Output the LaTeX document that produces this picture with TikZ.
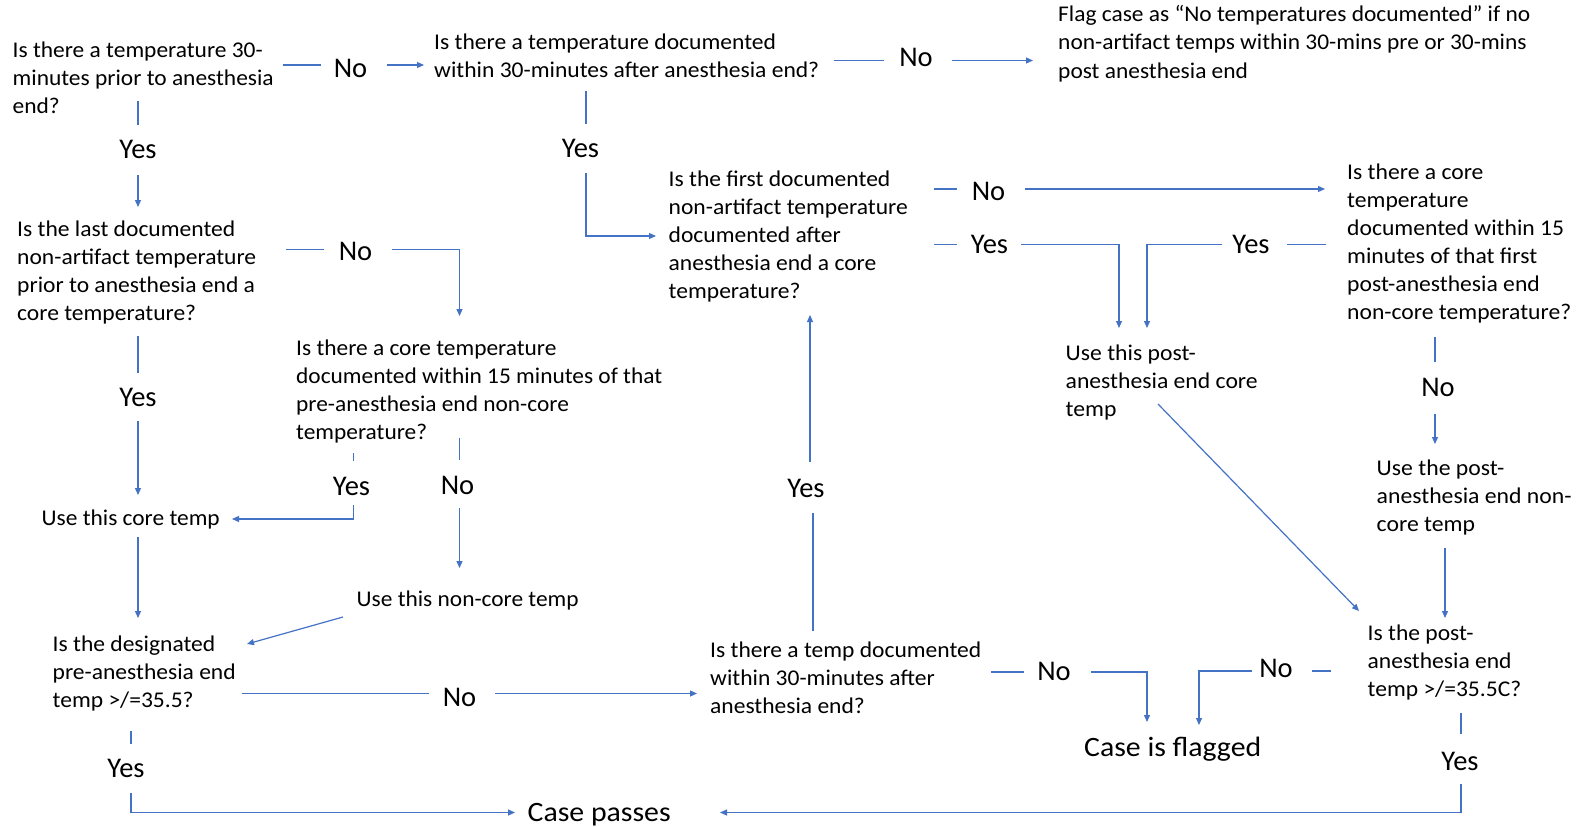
\documentclass[tikz,border=0pt]{standalone}
\usepackage{fontspec}
\setmainfont{Carlito}
\usepackage{graphicx}
\usetikzlibrary{arrows.meta}
\definecolor{ln}{HTML}{4472C4}
\newcommand\tb[2]{\resizebox{#1pt}{\height}{\begin{tabular}[t]{@{}l@{}}#2\end{tabular}}}
\begin{document}
\begin{tikzpicture}[x=1pt,y=-1pt,
  txt/.style={anchor=base west,inner sep=0pt,font=\fontsize{22.5}{28}\selectfont},
  lbl/.style={anchor=center,inner sep=0pt,font=\fontsize{28.5}{32}\selectfont},
  big/.style={anchor=base west,inner sep=0pt,font=\fontsize{28}{34}\selectfont},
  conn/.style={draw=ln,line width=1.2pt},
  arr/.style={conn,-{Triangle[length=7pt,width=6pt]}}]
\useasboundingbox[fill=white] (0,0) rectangle (1583,827);
% text nodes
\node[txt] (q1) at (12.5,57.3) {\tb{261}{Is there a temperature 30-\\minutes prior to anesthesia\\end?}};
\node[txt] (q2) at (434,49.5) {\tb{385}{Is there a temperature documented\\within 30-minutes after anesthesia end?}};
\node[txt] (flag) at (1058,22) {\tb{472}{Flag case as “No temperatures documented” if no\\non-artifact temps within 30-mins pre or 30-mins\\post anesthesia end}};
\node[txt] (q3) at (17,236) {\tb{239}{Is the last documented\\non-artifact temperature\\prior to anesthesia end a\\core temperature?}};
\node[txt] (q4) at (296,355.5) {\tb{366}{Is there a core temperature\\documented within 15 minutes of that\\pre-anesthesia end non-core\\temperature?}};
\node[txt] (usecore) at (41.5,525) {\tb{178}{Use this core temp}};
\node[txt] (usenon) at (356.5,606) {\tb{222}{Use this non-core temp}};
\node[txt] (q5) at (52.5,651) {\tb{183}{Is the designated\\pre-anesthesia end\\temp >/=35.5?}};
\node[txt] (q6) at (710,657.5) {\tb{271}{Is there a temp documented\\within 30-minutes after\\anesthesia end?}};
\node[txt] (q7) at (668.5,186) {\tb{239}{Is the first documented\\non-artifact temperature\\documented after\\anesthesia end a core\\temperature?}};
\node[txt] (q8) at (1347,179) {\tb{224}{Is there a core\\temperature\\documented within 15\\minutes of that first\\post-anesthesia end\\non-core temperature?}};
\node[txt] (usepc) at (1065.5,360.5) {\tb{192}{Use this post-\\anesthesia end core\\temp}};
\node[txt] (usepn) at (1376.5,475.5) {\tb{195}{Use the post-\\anesthesia end non-\\core temp}};
\node[txt] (q9) at (1367.5,640) {\tb{153.5}{Is the post-\\anesthesia end\\temp >/=35.5C?}};
\node[big] (pass) at (527.5,821) {\resizebox{143pt}{\height}{Case passes}};
\node[big] (flagged) at (1084,756.5) {\resizebox{177pt}{\height}{Case is flagged}};
% labels
\node[lbl] (l1) at (350.5,68.5) {No};
\node[lbl] (l2) at (916,57.5) {No};
\node[lbl] (l3) at (138,149.5) {Yes};
\node[lbl] (l4) at (580.5,148.5) {Yes};
\node[lbl] (l5) at (355.5,251.5) {No};
\node[lbl] (l6) at (138,397) {Yes};
\node[lbl] (l7) at (351.5,486) {Yes};
\node[lbl] (l8) at (457.5,485) {No};
\node[lbl] (l9) at (806,488) {Yes};
\node[lbl] (l10) at (988.5,191) {No};
\node[lbl] (l11) at (989.5,244.5) {Yes};
\node[lbl] (l12) at (1251,244.5) {Yes};
\node[lbl] (l13) at (1438,387) {No};
\node[lbl] (l14) at (459.5,697) {No};
\node[lbl] (l15) at (126,768.5) {Yes};
\node[lbl] (l16) at (1054,671.5) {No};
\node[lbl] (l17) at (1276,668.5) {No};
\node[lbl] (l18) at (1460,761.5) {Yes};
% ports
\coordinate (a1) at (283,65);   \coordinate (a2) at (321,65);
\coordinate (a3) at (387,65);   \coordinate (a4) at (424,65);
\coordinate (b1) at (834,60.5); \coordinate (b2) at (884,60.5);
\coordinate (b3) at (952,60.5); \coordinate (b4) at (1033,60.5);
\coordinate (c1) at (138,101);  \coordinate (c2) at (138,125);
\coordinate (c3) at (138,175);  \coordinate (c4) at (138,207);
\coordinate (d1) at (586,91);   \coordinate (d2) at (586,124);
\coordinate (d3) at (586,173);  \coordinate (d4) at (586,236); \coordinate (d5) at (656,236);
\coordinate (e1) at (286,249.5); \coordinate (e2) at (324,249.5);
\coordinate (e3) at (392,249.5); \coordinate (e4) at (459.5,249.5); \coordinate (e5) at (459.5,316);
\coordinate (f1) at (138,336);  \coordinate (f2) at (138,372.5);
\coordinate (f3) at (138,421);  \coordinate (f4) at (138,495);
\coordinate (g1) at (353.5,453); \coordinate (g2) at (353.5,461);
\coordinate (g3) at (353.5,505); \coordinate (g4) at (353.5,519); \coordinate (g5) at (232,519);
\coordinate (h1) at (459.5,438); \coordinate (h2) at (459.5,460);
\coordinate (h3) at (459.5,508); \coordinate (h4) at (459.5,568);
\coordinate (i1) at (138,537);  \coordinate (i2) at (138,618);
\coordinate (j1) at (343,617);  \coordinate (j2) at (247,644);
\coordinate (k1) at (242,693.5); \coordinate (k2) at (429,693.5);
\coordinate (k3) at (495,693.5); \coordinate (k4) at (697,693.5);
\coordinate (m1) at (131,731);  \coordinate (m2) at (131,744);
\coordinate (m3) at (131,793);  \coordinate (m4) at (131,812.5); \coordinate (m5) at (515,812.5);
\coordinate (n1) at (813,631);  \coordinate (n2) at (813,513);
\coordinate (n3) at (810,462);  \coordinate (n4) at (810,315);
\coordinate (o1) at (934,189);  \coordinate (o2) at (957,189);
\coordinate (o3) at (1025,189); \coordinate (o4) at (1325,189);
\coordinate (p1) at (934,244.5); \coordinate (p2) at (957,244.5);
\coordinate (p3) at (1021,244.5); \coordinate (p4) at (1119,244.5); \coordinate (p5) at (1119,328);
\coordinate (r1) at (1287,244.5); \coordinate (r2) at (1326,244.5);
\coordinate (r3) at (1222,244.5); \coordinate (r4) at (1147,244.5); \coordinate (r5) at (1147,328);
\coordinate (s1) at (1435,337); \coordinate (s2) at (1435,362);
\coordinate (s3) at (1435,414); \coordinate (s4) at (1435,444);
\coordinate (t1) at (1158,404); \coordinate (t2) at (1359,611);
\coordinate (u1) at (1445,548); \coordinate (u2) at (1445,618);
\coordinate (v1) at (991,672);  \coordinate (v2) at (1024,672);
\coordinate (v3) at (1091,672); \coordinate (v4) at (1147,672); \coordinate (v5) at (1147,722);
\coordinate (w1) at (1312,671); \coordinate (w2) at (1331,671);
\coordinate (w3) at (1252,671); \coordinate (w4) at (1199,671); \coordinate (w5) at (1199,725);
\coordinate (z1) at (1461,713); \coordinate (z2) at (1461,734);
\coordinate (z3) at (1461,784); \coordinate (z4) at (1461,812.5); \coordinate (z5) at (720,812.5);
% connectors
\draw[conn] (a1) -- (a2); \draw[arr] (a3) -- (a4);
\draw[conn] (b1) -- (b2); \draw[arr] (b3) -- (b4);
\draw[conn] (c1) -- (c2); \draw[arr] (c3) -- (c4);
\draw[conn] (d1) -- (d2); \draw[arr] (d3) -- (d4) -- (d5);
\draw[conn] (e1) -- (e2); \draw[arr] (e3) -- (e4) -- (e5);
\draw[conn] (f1) -- (f2); \draw[arr] (f3) -- (f4);
\draw[conn] (g1) -- (g2); \draw[arr] (g3) -- (g4) -- (g5);
\draw[conn] (h1) -- (h2); \draw[arr] (h3) -- (h4);
\draw[arr] (i1) -- (i2);
\draw[arr] (j1) -- (j2);
\draw[conn] (k1) -- (k2); \draw[arr] (k3) -- (k4);
\draw[conn] (m1) -- (m2); \draw[arr] (m3) -- (m4) -- (m5);
\draw[conn] (n1) -- (n2); \draw[arr] (n3) -- (n4);
\draw[conn] (o1) -- (o2); \draw[arr] (o3) -- (o4);
\draw[conn] (p1) -- (p2); \draw[arr] (p3) -- (p4) -- (p5);
\draw[conn] (r1) -- (r2); \draw[arr] (r3) -- (r4) -- (r5);
\draw[conn] (s1) -- (s2); \draw[arr] (s3) -- (s4);
\draw[arr] (t1) -- (t2);
\draw[arr] (u1) -- (u2);
\draw[conn] (v1) -- (v2); \draw[arr] (v3) -- (v4) -- (v5);
\draw[conn] (w1) -- (w2); \draw[arr] (w3) -- (w4) -- (w5);
\draw[conn] (z1) -- (z2); \draw[arr] (z3) -- (z4) -- (z5);
\end{tikzpicture}
\end{document}
